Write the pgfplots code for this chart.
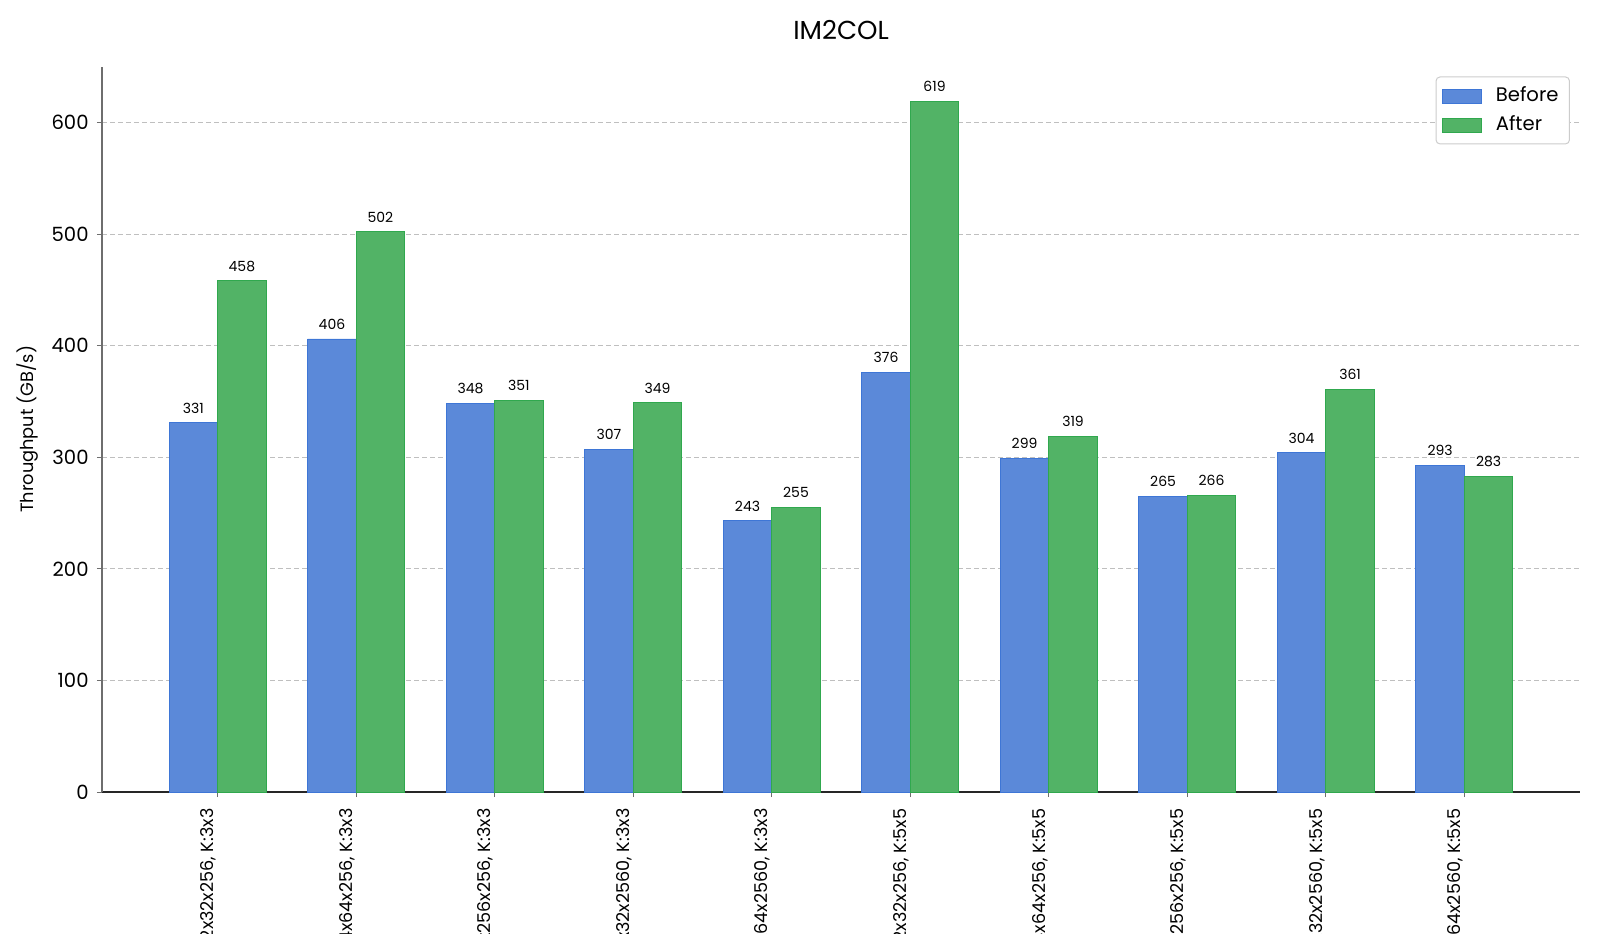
\documentclass[border=0pt]{standalone}
\usepackage{pgfplots}
\pgfplotsset{compat=1.18}
\usepackage{fontspec}
\setmainfont{Poppins}

\definecolor{beforefill}{RGB}{91,137,217}
\definecolor{beforeedge}{RGB}{62,118,214}
\definecolor{afterfill}{RGB}{82,179,102}
\definecolor{afteredge}{RGB}{48,168,78}
\definecolor{spinegray}{RGB}{110,110,110}

\begin{document}
\begin{tikzpicture}
\useasboundingbox (-51pt,-70.5pt) rectangle (749pt,396pt);
\clip (-51pt,-70.5pt) rectangle (749pt,396pt);
\begin{axis}[
  at={(0pt,0pt)}, anchor=south west,
  scale only axis, width=739pt, height=362.7pt,
  ybar=0pt, bar width=0.35,
  xmin=-0.835, xmax=9.835,
  ymin=0, ymax=650,
  xtick={0,...,9},
  xticklabels={
    {1x32x32x256, K:3x3},
    {1x64x64x256, K:3x3},
    {1x256x256x256, K:3x3},
    {1x32x32x2560, K:3x3},
    {1x64x64x2560, K:3x3},
    {1x32x32x256, K:5x5},
    {1x64x64x256, K:5x5},
    {1x256x256x256, K:5x5},
    {1x32x32x2560, K:5x5},
    {1x64x64x2560, K:5x5}},
  ytick={0,100,...,600},
  axis x line*=bottom, axis y line*=left,
  x axis line style={black!85, line width=0.6pt, -},
  y axis line style={spinegray, line width=0.6pt, -},
  tick align=outside,
  major tick length=2.5pt,
  every tick/.style={spinegray, line width=0.5pt},
  /pgf/number format/assume math mode=true,
  tick label style={font=\fontsize{9.8}{11}\selectfont, text=black},
  yticklabel style={inner sep=0pt, anchor=east, xshift=-4pt},
  xticklabel style={font=\fontsize{8.8}{10}\selectfont, rotate=90, anchor=east, inner sep=0pt, xshift=-5.6pt, yshift=4.5pt},
  ymajorgrids,
  major grid style={dash pattern=on 2.5pt off 1.5pt, black!25, line width=0.5pt},
  title={IM2COL},
  title style={font=\fontsize{13}{15}\selectfont, at={(axis description cs:0.5,1)}, anchor=center, yshift=12.3pt},
  ylabel={Throughput (GB/s)},
  ylabel style={font=\fontsize{8.9}{10}\selectfont, at={(axis description cs:0,0.5)}, anchor=center, xshift=0pt, yshift=37.3pt},
  nodes near coords={\pgfmathprintnumber[fixed,precision=0]{\pgfplotspointmeta}},
  every node near coord/.append style={font=\fontsize{7}{8}\selectfont, text=black, inner sep=0pt, anchor=south, yshift=4.5pt},
  legend style={at={(axis description cs:0.9932,0.9864)}, anchor=north east,
    draw=black!20, rounded corners=2pt, line width=0.5pt,
    font=\fontsize{9.8}{11}\selectfont,
    inner xsep=3pt, inner ysep=2.5pt, row sep=0.5pt,
    nodes={inner sep=2.5pt},
    /tikz/every odd column/.append style={column sep=4.5pt}},
  legend cell align=left,
  legend image code/.code={\fill[#1, sharp corners] (0pt,-3.5pt) rectangle (19.5pt,3.5pt);},
]
\addplot[fill=beforefill, draw=beforeedge, line width=0.4pt] coordinates {
  (0,331) (1,406) (2,348) (3,307) (4,243) (5,376) (6,299) (7,265) (8,304) (9,293)};
\addlegendentry{Before}
\addplot[fill=afterfill, draw=afteredge, line width=0.4pt] coordinates {
  (0,458) (1,502) (2,351) (3,349) (4,255) (5,619) (6,319) (7,266) (8,361) (9,283)};
\addlegendentry{After}
\end{axis}
\end{tikzpicture}
\end{document}
